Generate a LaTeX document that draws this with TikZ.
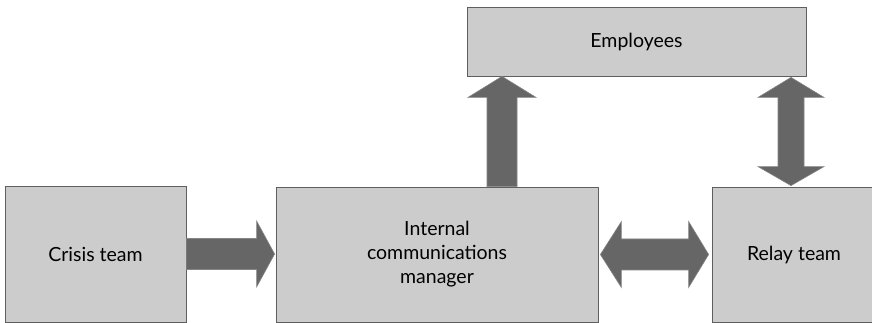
\documentclass[tikz,border=0pt]{standalone}
\usepackage{fontspec}
\setmainfont{Lato}
\usetikzlibrary{calc}
\definecolor{boxfill}{HTML}{CCCCCC}
\definecolor{boxline}{HTML}{5F5F5F}
\definecolor{arrowfill}{HTML}{666666}
\definecolor{arrowline}{HTML}{858585}
\tikzset{
  box/.style={draw=boxline, fill=boxfill, line width=0.8pt, inner sep=0pt,
    align=center, font=\fontsize{19.5}{24}\selectfont},
  blockarrow/.style={draw=arrowline, fill=arrowfill, line width=0.6pt, line join=miter}
}
\begin{document}
\begin{tikzpicture}[x=1pt,y=1pt]
\useasboundingbox (0,0) rectangle (872,323);
% boxes
\node[box, minimum width=181pt, minimum height=136pt] (crisis) at (95.5,69) {Crisis team};
\node[box, minimum width=322pt, minimum height=135pt] (icm) at (437,68.5) {Internal\\communications\\manager};
\node[box, minimum width=339pt, minimum height=69pt] (emp) at (636.5,281.5) {Employees};
\node[box, minimum width=164pt, minimum height=135pt] (relay) at (794,68.5) {Relay team};
% crisis team -> manager
\coordinate (t1) at (crisis.east);
\coordinate (h1) at ($(icm.west |- t1)+(-1,0)$);
\draw[blockarrow] ($(t1)+(0,15.5)$) -- ($(h1)+(-18,15.5)$) -- ($(h1)+(-18,33)$) -- (h1)
  -- ($(h1)+(-18,-33)$) -- ($(h1)+(-18,-15.5)$) -- ($(t1)+(0,-15.5)$) -- cycle;
% manager -> employees
\coordinate (t2) at ([xshift=65pt]icm.north);
\coordinate (h2) at (t2 |- emp.south);
\draw[blockarrow] ($(t2)+(-15,0)$) -- ($(h2)+(-15,-21)$) -- ($(h2)+(-34,-21)$) -- (h2)
  -- ($(h2)+(34,-21)$) -- ($(h2)+(15,-21)$) -- ($(t2)+(15,0)$) -- cycle;
% employees <-> relay team
\coordinate (a3) at ($(emp.south -| 791,0)+(0,-1)$);
\coordinate (b3) at ($(relay.north -| 791,0)+(0,1)$);
\draw[blockarrow] (a3) -- ($(a3)+(33,-20)$) -- ($(a3)+(13,-20)$) -- ($(b3)+(13,19)$)
  -- ($(b3)+(33,19)$) -- (b3) -- ($(b3)+(-33,19)$) -- ($(b3)+(-13,19)$)
  -- ($(a3)+(-13,-20)$) -- ($(a3)+(-33,-20)$) -- cycle;
% manager <-> relay team
\coordinate (a4) at ($(icm.east)+(2,0)$);
\coordinate (b4) at ($(relay.west)+(-3,0)$);
\draw[blockarrow] (a4) -- ($(a4)+(21,33)$) -- ($(a4)+(21,15.5)$) -- ($(b4)+(-20,15.5)$)
  -- ($(b4)+(-20,33)$) -- (b4) -- ($(b4)+(-20,-33)$) -- ($(b4)+(-20,-15.5)$)
  -- ($(a4)+(21,-15.5)$) -- ($(a4)+(21,-33)$) -- cycle;
\end{tikzpicture}
\end{document}
